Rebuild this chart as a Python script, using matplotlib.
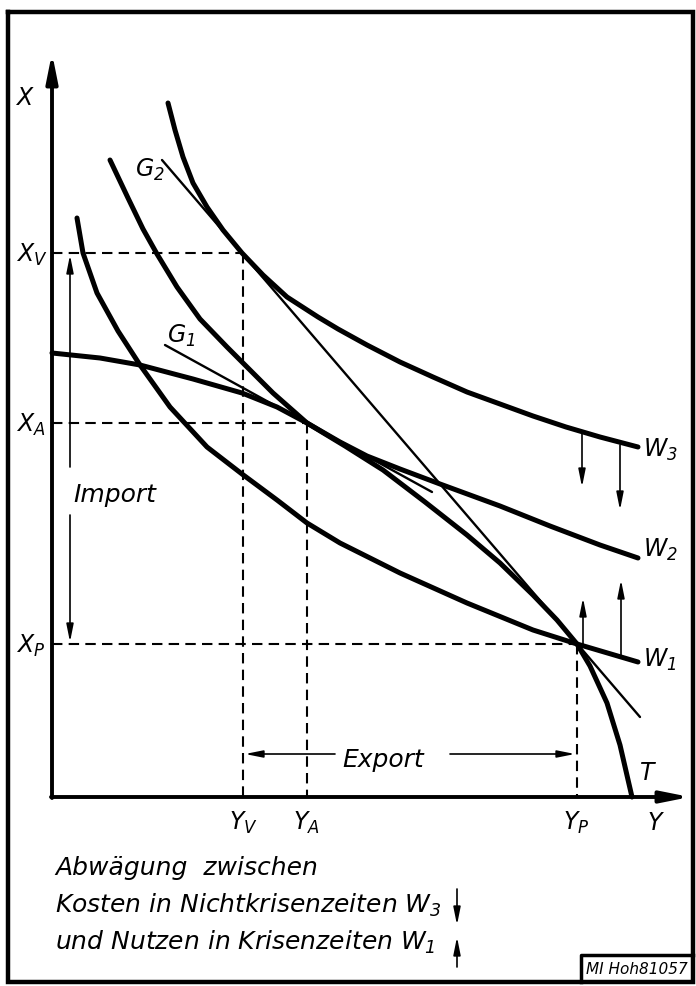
import numpy as np
import matplotlib
matplotlib.use("Agg")
import matplotlib.pyplot as plt

plt.rcParams['font.family'] = ['DejaVu Sans']
plt.rcParams['font.style'] = 'italic'
plt.rcParams['mathtext.fontset'] = 'custom'
plt.rcParams['mathtext.it'] = 'DejaVu Sans:italic'
plt.rcParams['mathtext.rm'] = 'DejaVu Sans:italic'
plt.rcParams['mathtext.default'] = 'it'

# points, (Y, X)
T_y = [0.00, 0.48, 0.88, 1.41, 1.90, 2.25, 2.55, 2.93, 3.31, 3.73, 4.15, 4.48, 4.81, 5.05, 5.25, 5.38, 5.55, 5.68, 5.80]
T_x = [4.44, 4.39, 4.32, 4.18, 4.04, 3.90, 3.74, 3.51, 3.27, 2.95, 2.62, 2.34, 2.02, 1.77, 1.53, 1.31, 0.94, 0.52, 0.00]

W3_y = [1.16, 1.23, 1.31, 1.41, 1.55, 1.71, 1.90, 2.11, 2.35, 2.66, 2.86, 3.15, 3.48, 3.81, 4.15, 4.48, 4.81, 5.14, 5.48, 5.86]
W3_x = [6.94, 6.67, 6.40, 6.14, 5.90, 5.67, 5.44, 5.22, 5.00, 4.80, 4.68, 4.52, 4.35, 4.20, 4.05, 3.93, 3.81, 3.70, 3.60, 3.50]

W2_y = [0.58, 0.76, 0.91, 1.05, 1.25, 1.48, 1.75, 1.90, 2.21, 2.55, 2.88, 3.15, 3.48, 3.88, 4.48, 4.98, 5.48, 5.86]
W2_x = [6.37, 5.99, 5.68, 5.43, 5.10, 4.78, 4.50, 4.35, 4.04, 3.74, 3.55, 3.41, 3.28, 3.13, 2.91, 2.71, 2.52, 2.39]

W1_y = [0.25, 0.31, 0.45, 0.66, 0.88, 1.18, 1.55, 1.90, 2.25, 2.55, 2.88, 3.48, 4.15, 4.81, 5.25, 5.86]
W1_x = [5.79, 5.44, 5.04, 4.66, 4.32, 3.90, 3.50, 3.23, 2.97, 2.74, 2.54, 2.24, 1.94, 1.67, 1.53, 1.35]

G1_y = [1.13, 3.80]
G1_x = [4.52, 3.05]
G2_y = [1.10, 5.88]
G2_x = [6.37, 0.80]

# equilibrium points V, A, P
pt_names = ['V', 'A', 'P']
pt_y = [1.91, 2.55, 5.25]
pt_x = [5.44, 3.74, 1.53]

fig = plt.figure(figsize=(6.96, 9.86), dpi=100)
ax = fig.add_axes([0, 0, 1, 1])
ax.set_xlim(-0.52, 6.44)
ax.set_ylim(-1.89, 7.97)
ax.axis('off')

# outer frame
ax.plot([-0.44, 6.41, 6.41, -0.44, -0.44], [7.85, 7.85, -1.85, -1.85, 7.85],
        c='k', lw=3.2, solid_joinstyle='miter')

# axes with arrows
axis_arrow = dict(arrowstyle='-|>,head_length=0.85,head_width=0.17',
                  lw=2.8, color='k', mutation_scale=20, shrinkA=0, shrinkB=0)
ax.annotate('', xy=(0, 7.44), xytext=(0, -0.01), arrowprops=axis_arrow)
ax.annotate('', xy=(6.38, 0), xytext=(-0.01, 0), arrowprops=axis_arrow)

# dashed guides
for yv, xv in zip(pt_y, pt_x):
    ax.plot([0, yv], [xv, xv], c='k', lw=1.5, dashes=(5, 3))
    ax.plot([yv, yv], [xv, 0], c='k', lw=1.5, dashes=(5, 3))

# curves
for cy, cx in [(T_y, T_x), (W3_y, W3_x), (W2_y, W2_x), (W1_y, W1_x)]:
    ax.plot(cy, cx, c='k', lw=3.6, solid_capstyle='round', solid_joinstyle='round')
ax.plot(G1_y, G1_x, c='k', lw=1.7, solid_capstyle='round')
ax.plot(G2_y, G2_x, c='k', lw=1.7, solid_capstyle='round')

def arrow(x0, y0, x1, y1):
    ax.annotate('', xy=(x1, y1), xytext=(x0, y0),
                arrowprops=dict(arrowstyle='-|>,head_length=0.7,head_width=0.14',
                                lw=1.2, color='k', mutation_scale=15, shrinkA=0, shrinkB=0))

# import / export
arrow(0.18, 3.30, 0.18, 5.42)
arrow(0.18, 2.82, 0.18, 1.55)
arrow(2.83, 0.43, 1.93, 0.43)
arrow(3.98, 0.43, 5.23, 0.43)
# shifts of W3 and W1
arrow(5.30, 3.64, 5.30, 3.10)
arrow(5.68, 3.52, 5.68, 2.87)
arrow(5.31, 1.53, 5.31, 1.99)
arrow(5.69, 1.42, 5.69, 2.17)

fs = 17
ax.text(-0.36, 6.92, 'X', fontsize=fs, va='baseline')
ax.text(5.96, -0.33, 'Y', fontsize=fs, va='baseline')
for nm, yv, xv in zip(pt_names, pt_y, pt_x):
    ax.text(-0.36, xv - 0.09, '$X_%s$' % nm, fontsize=fs, va='baseline')
    ax.text(yv - 0.14, -0.33, '$Y_%s$' % nm, fontsize=fs, va='baseline')

ax.text(0.83, 6.20, '$G_2$', fontsize=fs, va='baseline')
ax.text(1.15, 4.54, '$G_1$', fontsize=fs, va='baseline')
ax.text(5.91, 3.40, '$W_3$', fontsize=fs, va='baseline')
ax.text(5.91, 2.40, '$W_2$', fontsize=fs, va='baseline')
ax.text(5.91, 1.30, '$W_1$', fontsize=fs, va='baseline')
ax.text(5.88, 0.17, 'T', fontsize=fs, va='baseline')
ax.text(0.21, 2.95, 'Import', fontsize=18, va='baseline')
ax.text(2.90, 0.30, 'Export', fontsize=18, va='baseline')

ax.text(0.03, -0.78, 'Abwägung  zwischen', fontsize=18, va='baseline')
ax.text(0.03, -1.16, 'Kosten in Nichtkrisenzeiten $W_3$', fontsize=18, va='baseline')
ax.text(0.03, -1.53, 'und Nutzen in Krisenzeiten $W_1$', fontsize=18, va='baseline')
arrow(4.05, -0.92, 4.05, -1.28)
arrow(4.05, -1.70, 4.05, -1.40)

# archive box
ax.plot([6.41, 5.29, 5.29], [-1.58, -1.58, -1.85], c='k', lw=2.5)
ax.text(5.85, -1.72, 'MI Hoh81057', fontsize=11, ha='center', va='center')

fig.savefig('out.png', dpi=100)
